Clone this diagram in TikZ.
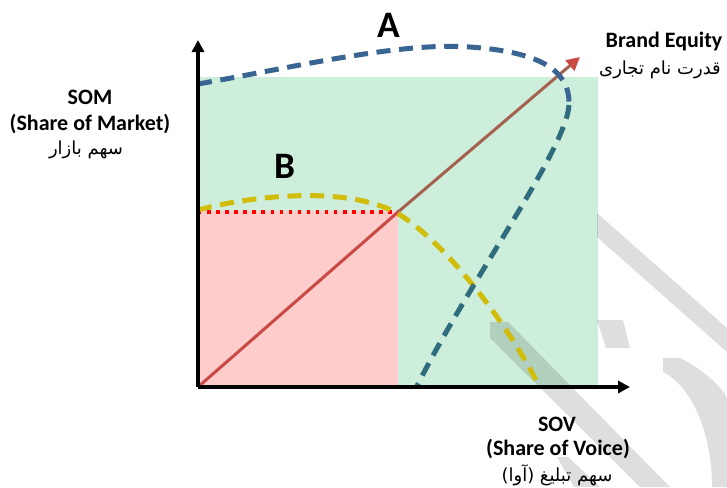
\documentclass[tikz,border=0pt]{standalone}
\usepackage{fontspec}
\setmainfont{Carlito}
\newfontfamily\persianfont[Script=Arabic]{DejaVu Sans}
\TeXXeTstate=1
\usepackage{tikz}
\usetikzlibrary{arrows.meta}
\definecolor{mint}{HTML}{CCEEDA}
\definecolor{rose}{HTML}{FFCCCC}
\definecolor{redline}{HTML}{C94A45}
\definecolor{brownline}{HTML}{A5614F}
\definecolor{curveA}{HTML}{3A6491}
\definecolor{curveAteal}{HTML}{2F6C7E}
\definecolor{curveB}{HTML}{D2BC0A}
\tikzset{
  lbl/.style={font=\bfseries\fontsize{16.5}{20}\selectfont},
  fa/.style={font=\persianfont\fontsize{13.5}{16}\selectfont},
  letter/.style={font=\bfseries\fontsize{28}{30}\selectfont},
  axis/.style={line width=2.4pt, -{Triangle[length=9pt,width=9pt]}},
  dashcurve/.style={line width=3.75pt, dash pattern=on 10.5pt off 6.5pt},
  wmark/.style={fill=black, opacity=0.13},
}

\begin{document}
\begin{tikzpicture}[x=0.75pt,y=-0.75pt]
\useasboundingbox (0,0) rectangle (727,487);
\coordinate (O) at (198,387);
\coordinate (xtip) at (630,387);
\coordinate (ytip) at (198,40);
\coordinate (M) at (398,212);
\coordinate (BE) at (580,57);

\fill[mint] (198,77) rectangle (598,386);
\fill[rose] (198,211) rectangle (398,386);

\fill[wmark] (597,213) -- (727,328) -- (727,352) -- (597,237) -- cycle;
\fill[wmark] (597,320) -- (623,320) -- (630,348) -- (606,348) -- cycle;
\fill[wmark] (490,322) -- (508,322) -- (670,487) -- (640,487) -- (490,338) -- cycle;
\fill[wmark] (663,358) -- (680,358) .. controls (705,370) and (727,392) .. (727,400)
  -- (727,487) -- (712,487) .. controls (712,430) and (690,385) .. (663,372) -- cycle;
\fill[wmark] (557,457) -- (568,457) -- (600,487) -- (574,487) -- cycle;

\draw[red, line width=2.6pt, dash pattern=on 2.6pt off 4.2pt] (198,212) -- (M);
\draw[redline, line width=2.25pt] (O) -- (M);
\draw[brownline, line width=2.25pt, -{Triangle[length=10pt,width=10pt,color=redline]}] (M) -- (BE);

\draw[dashcurve, curveB] (198,210) .. controls (250,196) and (345,185) .. (397,213)
  .. controls (445,242) and (505,320) .. (537,382);
\draw[dashcurve, curveA] (198,84) .. controls (300,66) and (400,42) .. (470,47)
  .. controls (540,52) and (570,70) .. (569,105);
\draw[dashcurve, curveAteal] (569,105) .. controls (566,150) and (470,280) .. (417,386);

\draw[axis] (O) -- (xtip);
\draw[axis] (O) -- (ytip);

\node[letter] (labA) at (389,25) {A};
\node[letter] (labB) at (285,166) {B};

\node[lbl] (som) at (90,97) {SOM};
\node[lbl] (somen) at (90,124) {(Share of Market)};
\node[fa] (somfa) at (86,150) {\beginR سهم بازار\endR};

\node[lbl] (equity) at (664,42) {Brand Equity};
\node[fa] (equityfa) at (660,70) {\beginR قدرت نام تجاری\endR};

\node[lbl] (sov) at (557,424) {SOV};
\node[lbl] (soven) at (558,449) {(Share of Voice)};
\node[fa] (sovfa) at (557,475) {\beginR سهم تبلیغ (آوا)\endR};
\end{tikzpicture}
\end{document}
